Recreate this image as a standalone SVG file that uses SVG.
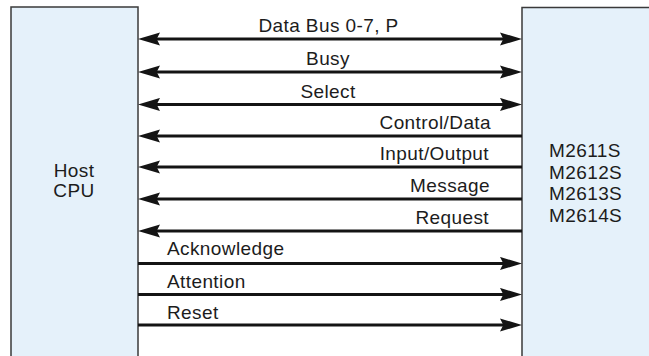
<svg xmlns="http://www.w3.org/2000/svg" width="649" height="356" viewBox="0 0 649 356">
<style>
.box{fill:#e5f1fa;stroke:#3a3a3a;stroke-width:1.5}
.t{font-family:"Liberation Sans",Arial,sans-serif;font-size:19px;letter-spacing:0.4px;fill:#1c1c1c}
.c{text-anchor:middle}
.r{text-anchor:end}
.w{stroke:#141414;stroke-width:3;fill:none}
.both{marker-start:url(#ah);marker-end:url(#ah)}
.toL{marker-start:url(#ah)}
.toR{marker-end:url(#ah)}
</style>
<defs>
<marker id="ah" markerUnits="userSpaceOnUse" markerWidth="22" markerHeight="14" viewBox="0 0 20 12" refX="10" refY="6" orient="auto-start-reverse">
<path d="M0,0 L20,6 L0,12 L3,6 z" fill="#141414"/>
</marker>
</defs>
<rect width="649" height="356" fill="#ffffff"/>
<g id="host">
<rect class="box" x="11" y="7" width="127" height="360"/>
<text class="t c" x="74" y="177">Host</text>
<text class="t c" x="74" y="197">CPU</text>
</g>
<g id="device">
<rect class="box" x="522" y="7.5" width="140" height="360"/>
<text class="t" x="549" y="157">M2611S</text>
<text class="t" x="549" y="178.5">M2612S</text>
<text class="t" x="549" y="200">M2613S</text>
<text class="t" x="549" y="221.5">M2614S</text>
</g>
<g id="connectors">
<line class="w both" x1="149" y1="39" x2="511" y2="39"/>
<line class="w both" x1="149" y1="72" x2="511" y2="72"/>
<line class="w both" x1="149" y1="104.5" x2="511" y2="104.5"/>
<line class="w toL" x1="149" y1="136" x2="522" y2="136"/>
<line class="w toL" x1="149" y1="167" x2="522" y2="167"/>
<line class="w toL" x1="149" y1="199" x2="522" y2="199"/>
<line class="w toL" x1="149" y1="231" x2="522" y2="231"/>
<line class="w toR" x1="138" y1="263.5" x2="511" y2="263.5"/>
<line class="w toR" x1="138" y1="294.5" x2="511" y2="294.5"/>
<line class="w toR" x1="138" y1="325" x2="511" y2="325"/>
</g>
<g id="labels">
<text class="t c" x="328.5" y="32">Data Bus 0-7, P</text>
<text class="t c" x="328" y="64.5">Busy</text>
<text class="t c" x="328" y="97.5">Select</text>
<text class="t r" x="491" y="129">Control/Data</text>
<text class="t r" x="489" y="159.5">Input/Output</text>
<text class="t r" x="490" y="192">Message</text>
<text class="t r" x="489" y="224">Request</text>
<text class="t" x="167" y="255">Acknowledge</text>
<text class="t" x="167" y="288">Attention</text>
<text class="t" x="167" y="318.5">Reset</text>
</g>
</svg>
